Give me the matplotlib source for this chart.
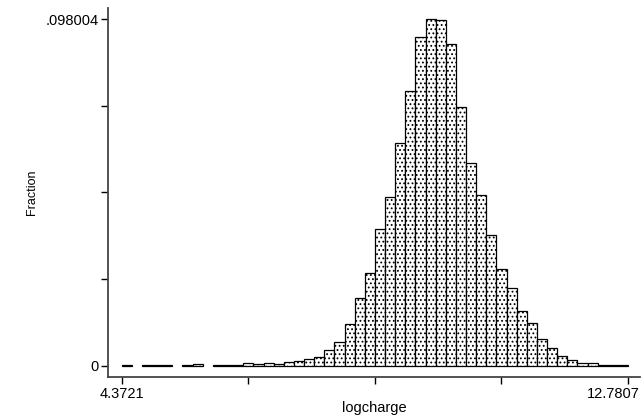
import numpy as np
import matplotlib
matplotlib.use("Agg")
import matplotlib.pyplot as plt
import matplotlib.transforms as mtransforms

# histogram of logcharge, 50 bins between min and max, heights as fractions
x_min = 4.3721
x_max = 12.7807
n_bins = 50
fraction = [
    0.0001, 0.0, 0.0001, 0.0001, 0.0001, 0.0, 0.0001, 0.0005, 0.0, 0.0001,
    0.0002, 0.0002, 0.0006, 0.0005, 0.0006, 0.0004, 0.0010, 0.0013, 0.0018, 0.0023,
    0.0044, 0.0067, 0.0118, 0.0190, 0.0263, 0.0387, 0.0478, 0.0629, 0.0778, 0.0931,
    0.098004, 0.0979, 0.0909, 0.0731, 0.0574, 0.0483, 0.0369, 0.0272, 0.0219, 0.0155,
    0.0119, 0.0074, 0.0051, 0.0028, 0.0015, 0.0007, 0.0007, 0.0002, 0.0002, 0.0001,
]
y_top = 0.098004
x_tick_labels = ["4.3721", "", "", "", "12.7807"]
y_tick_labels = ["0", "", "", "", ".098004"]

plt.rcParams['font.family'] = ['Liberation Sans', 'DejaVu Sans']
plt.rcParams['hatch.linewidth'] = 0.8

fig = plt.figure(figsize=(6.43, 4.18), dpi=100)
ax = fig.add_axes([0.168, 0.098, 0.827, 0.883])

edges = np.linspace(x_min, x_max, n_bins + 1)
width = edges[1] - edges[0]
heights = np.array(fraction)
keep = heights > 0
ax.bar(edges[:-1][keep], heights[keep], width=width, align='edge',
       facecolor='white', edgecolor='black', linewidth=0.9, hatch='....')

ax.set_xlim(x_min - 13.7 / 60.25, x_max + 11.7 / 60.25)
ax.set_ylim(-11.5 / 3532.5, y_top + 11.3 / 3532.5)

ax.set_xticks(np.linspace(x_min, x_max, 5))
ax.set_xticklabels(x_tick_labels)
ax.set_yticks(np.linspace(0, y_top, 5))
ax.set_yticklabels(y_tick_labels)
ax.tick_params(axis='both', direction='out', length=5, width=1, color='black',
               labelsize=10.5, pad=2)

# last x label pulled in so it stays inside the figure
last = ax.get_xticklabels()[-1]
last.set_ha('right')
last.set_transform(last.get_transform() +
                   mtransforms.ScaledTranslation(12 / 100, 0, fig.dpi_scale_trans))

for side in ['top', 'right']:
    ax.spines[side].set_visible(False)
for side in ['left', 'bottom']:
    ax.spines[side].set_color('#444444')
    ax.spines[side].set_linewidth(1.3)

ax.set_xlabel('logcharge', fontsize=10.5, labelpad=0)
ax.set_ylabel('Fraction', fontsize=9)
ax.yaxis.set_label_coords(-0.132, 0.5)

fig.savefig('out.png', dpi=100)
